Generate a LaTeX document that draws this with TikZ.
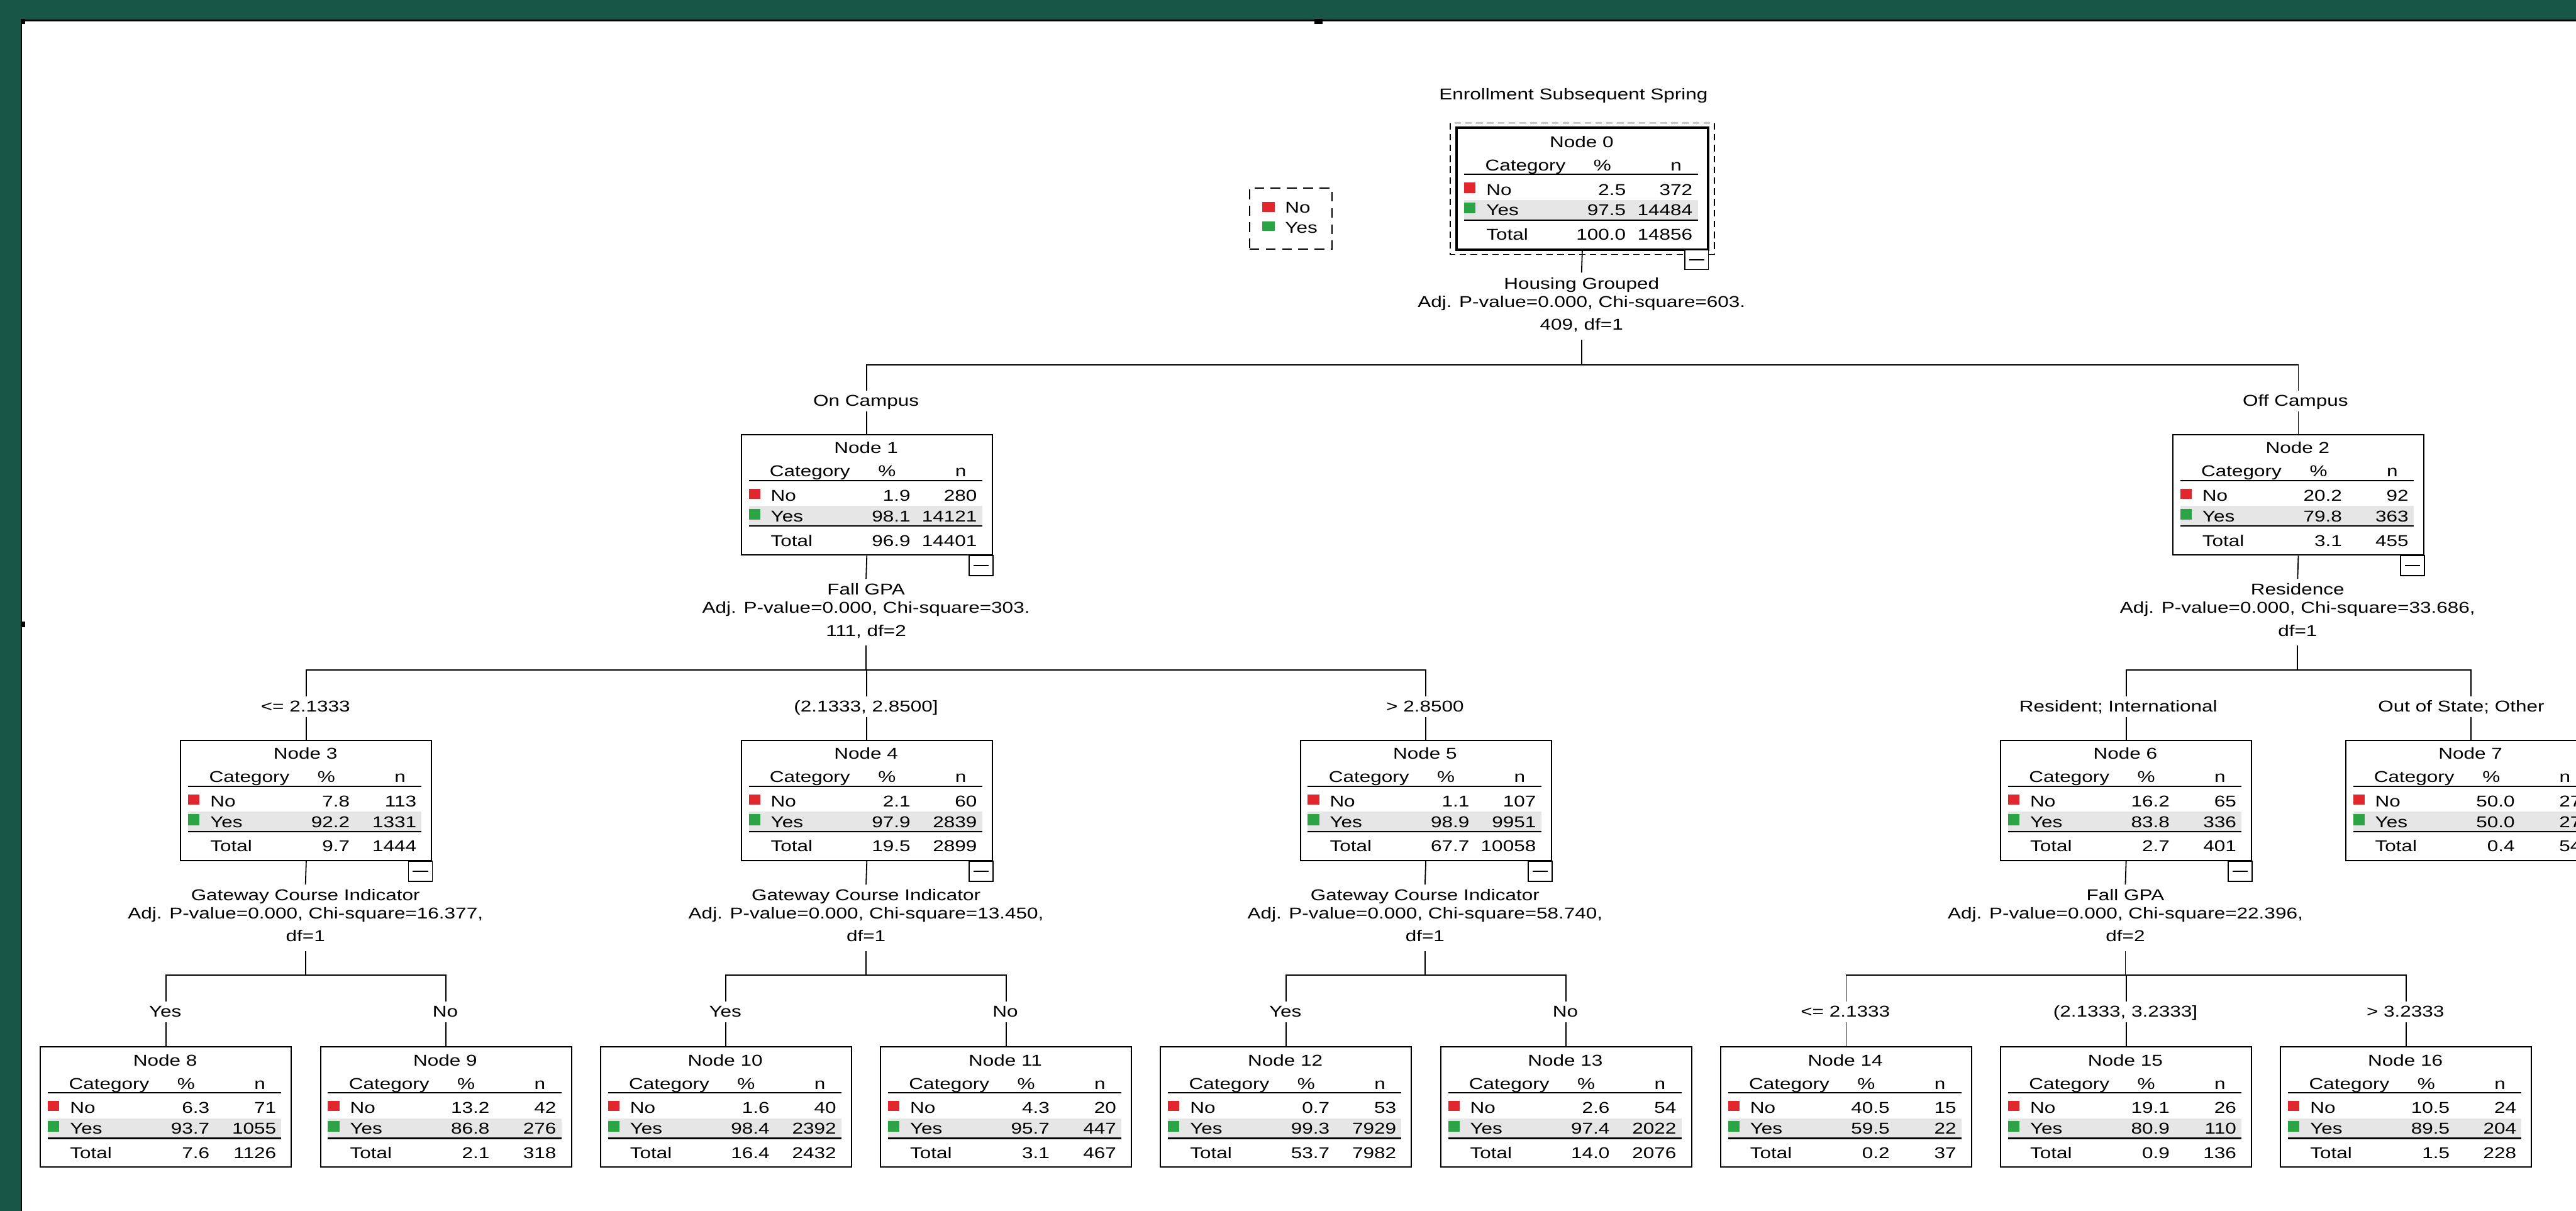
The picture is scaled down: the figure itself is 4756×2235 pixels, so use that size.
\documentclass[tikz,border=0pt]{standalone}
\usepackage{fontspec}
\setmainfont{Liberation Sans}[FakeStretch=1.26]
\usetikzlibrary{calc}
\definecolor{framegreen}{RGB}{24,86,72}
\definecolor{nored}{RGB}{226,38,46}
\definecolor{yesgreen}{RGB}{44,164,70}
\definecolor{rowgrey}{RGB}{230,230,230}
\newcommand\tf{\fontsize{8.25}{10}\selectfont}
\tikzset{
  box/.style={draw, line width=0.7pt, minimum width=4.63cm, minimum height=2.22cm, inner sep=0pt},
  txt/.style={inner sep=0pt, font=\tf},
  tablerule/.style={line width=0.7pt},
  conn/.style={line width=0.6pt},
  minbox/.style={line width=0.6pt},
  lab/.style={font=\tf, inner xsep=0.04cm, inner ysep=0.07cm, text height=0.21cm, text depth=0.02cm},
  stata/.style={font=\tf, inner xsep=0.04cm, inner ysep=0.08cm, text height=0.21cm},
  statb/.style={font=\tf, inner sep=0pt},
  statc/.style={font=\tf, inner xsep=0.04cm, inner ysep=0.1cm, text depth=0.07cm},
}
% #1 id, #2 centre x, #3 top y, #4 no%, #5 no n, #6 yes%, #7 yes n, #8 total%, #9 total n
\newcommand\treebox[9]{%
  \pgfmathsetmacro\tbl{#2-231.5}%
  \begin{scope}[shift={(\tbl,#3)}]
    \node[box, anchor=north west] (n#1) at (0,0) {};
    \fill[rowgrey] (15,133) rectangle (446,169);
    \draw[tablerule] (15,86) -- (446,86);
    \draw[tablerule] (15,170) -- (446,170);
    \fill[nored] (15,101) rectangle (36,120);
    \fill[yesgreen] (15,138) rectangle (36,158);
    \node[txt, anchor=base] (n#1t) at (231.5,36) {Node #1};
    \node[txt, anchor=base west] (n#1h) at (53,79) {Category};
    \node[txt, anchor=base] (n#1hp) at (270,79) {\%};
    \node[txt, anchor=base east] (n#1hn) at (417,79) {n};
    \node[txt, anchor=base west] (n#1a) at (55,124) {No};
    \node[txt, anchor=base east] (n#1ap) at (314,124) {#4};
    \node[txt, anchor=base east] (n#1an) at (437,124) {#5};
    \node[txt, anchor=base west] (n#1b) at (55,162) {Yes};
    \node[txt, anchor=base east] (n#1bp) at (314,162) {#6};
    \node[txt, anchor=base east] (n#1bn) at (437,162) {#7};
    \node[txt, anchor=base west] (n#1c) at (55,207) {Total};
    \node[txt, anchor=base east] (n#1cp) at (314,207) {#8};
    \node[txt, anchor=base east] (n#1cn) at (437,207) {#9};
  \end{scope}}
% #1 id, #2 x, #3 parent bottom y, #4-#6 lines
\newcommand\statlab[6]{%
  \pgfmathsetmacro\sya{#3+75}%
  \pgfmathsetmacro\syb{#3+109}%
  \pgfmathsetmacro\syc{#3+151}%
  \node[stata, anchor=base] (s#1a) at (#2,\sya) {#4};
  \node[statb, anchor=base] (s#1b) at (#2,\syb) {#5};
  \node[statc, anchor=base] (s#1c) at (#2,\syc) {#6};
  \draw[conn] (n#1.south) -- (s#1a.north);}
\newcommand\collapsebox[1]{%
  \draw[minbox, fill=white] ([xshift=-0.44cm]#1.south east) rectangle ([yshift=-0.37cm]#1.south east);
  \draw[minbox] ([xshift=-0.36cm,yshift=-0.185cm]#1.south east) -- ([xshift=-0.08cm,yshift=-0.185cm]#1.south east);}
% #1 bar coordinate, #2 child id, #3 label x, #4 baseline y, #5 text
\newcommand\branchlab[5]{%
  \node[lab, anchor=base] (l#2) at (#3,#4) {#5};
  \draw[conn] (#1) -| (l#2.north -| n#2.north);
  \draw[conn] (l#2.south -| n#2.north) -- (n#2.north);}
\begin{document}
\begin{tikzpicture}[x=0.01cm,y=-0.01cm]
\useasboundingbox (0,0) rectangle (4756,2235);
\clip (0,0) rectangle (4756,2235);
\fill[white] (0,0) rectangle (4756,2235);
% window frame
\fill[framegreen] (0,0) rectangle (4756,36);
\fill[framegreen] (0,0) rectangle (38,2235);
\draw[line width=0.9pt] (38,37.5) -- (4756,37.5);
\draw[line width=0.9pt] (39.5,37) -- (39.5,2235);
\fill (38,35) rectangle (47,44);
\fill (2427,35) rectangle (2442,44);
\fill (38,1147) rectangle (47,1158);

% title
\node[txt, anchor=base] (title) at (2905,184) {Enrollment Subsequent Spring};

% legend
\node[draw, line width=0.6pt, dash pattern=on 0.18cm off 0.12cm, minimum width=1.52cm, minimum height=1.13cm, inner sep=0pt] (legend) at (2383,403.5) {};
\fill[nored] (2330,373) rectangle (2354,391);
\fill[yesgreen] (2330,409) rectangle (2354,426);
\node[txt, anchor=base west] (legno) at (2372,393) {No};
\node[txt, anchor=base west] (legyes) at (2372,430) {Yes};

% level 0
\treebox{0}{2920}{236}{2.5}{372}{97.5}{14484}{100.0}{14856}
\draw[line width=1.2pt] (n0.north west) rectangle (n0.south east);
\draw[line width=0.6pt, dash pattern=on 0.12cm off 0.08cm] ([shift={(-0.11cm,0.09cm)}]n0.north west) rectangle ([shift={(0.11cm,-0.09cm)}]n0.south east);
\collapsebox{n0}
\statlab{0}{2920}{458}{Housing Grouped}{Adj. P-value=0.000, Chi-square=603.}{409, df=1}
\coordinate (b0) at (2920,673);
\draw[conn] (s0c.south) -- (b0);

% level 1
\treebox{1}{1599}{801}{1.9}{280}{98.1}{14121}{96.9}{14401}
\treebox{2}{4242}{801}{20.2}{92}{79.8}{363}{3.1}{455}
\collapsebox{n1}
\collapsebox{n2}
\branchlab{b0}{1}{1599}{750}{On Campus}
\branchlab{b0}{2}{4238}{750}{Off Campus}

\statlab{1}{1599}{1023}{Fall GPA}{Adj. P-value=0.000, Chi-square=303.}{111, df=2}
\coordinate (b1) at (1599,1237);
\draw[conn] (s1c.south) -- (b1);
\statlab{2}{4242}{1023}{Residence}{Adj. P-value=0.000, Chi-square=33.686,}{df=1}
\coordinate (b2) at (4242,1237);
\draw[conn] (s2c.south) -- (b2);

% level 2
\treebox{3}{564}{1365}{7.8}{113}{92.2}{1331}{9.7}{1444}
\treebox{4}{1599}{1365}{2.1}{60}{97.9}{2839}{19.5}{2899}
\treebox{5}{2631}{1365}{1.1}{107}{98.9}{9951}{67.7}{10058}
\treebox{6}{3924}{1365}{16.2}{65}{83.8}{336}{2.7}{401}
\treebox{7}{4561}{1365}{50.0}{27}{50.0}{27}{0.4}{54}
\collapsebox{n3}
\collapsebox{n4}
\collapsebox{n5}
\collapsebox{n6}
\branchlab{b1}{3}{564}{1314}{<= 2.1333}
\branchlab{b1}{4}{1599}{1314}{(2.1333, 2.8500]}
\branchlab{b1}{5}{2631}{1314}{> 2.8500}
\branchlab{b2}{6}{3911}{1314}{Resident; International}
\branchlab{b2}{7}{4544}{1314}{Out of State; Other}

\statlab{3}{564}{1587}{Gateway Course Indicator}{Adj. P-value=0.000, Chi-square=16.377,}{df=1}
\coordinate (b3) at (564,1800);
\draw[conn] (s3c.south) -- (b3);
\statlab{4}{1599}{1587}{Gateway Course Indicator}{Adj. P-value=0.000, Chi-square=13.450,}{df=1}
\coordinate (b4) at (1599,1800);
\draw[conn] (s4c.south) -- (b4);
\statlab{5}{2631}{1587}{Gateway Course Indicator}{Adj. P-value=0.000, Chi-square=58.740,}{df=1}
\coordinate (b5) at (2631,1800);
\draw[conn] (s5c.south) -- (b5);
\statlab{6}{3924}{1587}{Fall GPA}{Adj. P-value=0.000, Chi-square=22.396,}{df=2}
\coordinate (b6) at (3924,1800);
\draw[conn] (s6c.south) -- (b6);

% level 3
\treebox{8}{305}{1931}{6.3}{71}{93.7}{1055}{7.6}{1126}
\treebox{9}{822}{1931}{13.2}{42}{86.8}{276}{2.1}{318}
\treebox{10}{1339}{1931}{1.6}{40}{98.4}{2392}{16.4}{2432}
\treebox{11}{1856}{1931}{4.3}{20}{95.7}{447}{3.1}{467}
\treebox{12}{2373}{1931}{0.7}{53}{99.3}{7929}{53.7}{7982}
\treebox{13}{2890}{1931}{2.6}{54}{97.4}{2022}{14.0}{2076}
\treebox{14}{3407}{1931}{40.5}{15}{59.5}{22}{0.2}{37}
\treebox{15}{3924}{1931}{19.1}{26}{80.9}{110}{0.9}{136}
\treebox{16}{4441}{1931}{10.5}{24}{89.5}{204}{1.5}{228}
\branchlab{b3}{8}{305}{1877}{Yes}
\branchlab{b3}{9}{822}{1877}{No}
\branchlab{b4}{10}{1339}{1877}{Yes}
\branchlab{b4}{11}{1856}{1877}{No}
\branchlab{b5}{12}{2373}{1877}{Yes}
\branchlab{b5}{13}{2890}{1877}{No}
\branchlab{b6}{14}{3407}{1877}{<= 2.1333}
\branchlab{b6}{15}{3924}{1877}{(2.1333, 3.2333]}
\branchlab{b6}{16}{4441}{1877}{> 3.2333}
\end{tikzpicture}
\end{document}
